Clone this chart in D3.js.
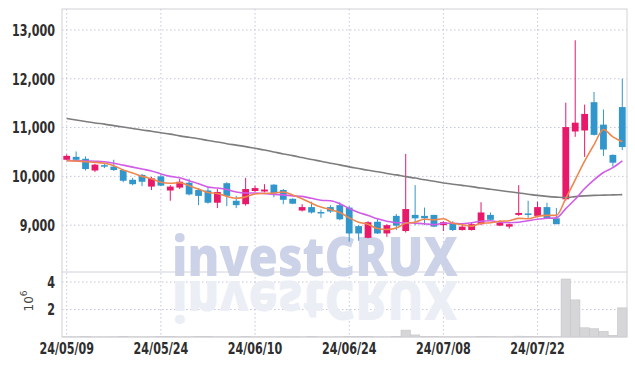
<!DOCTYPE html>
<html>
<head>
<meta charset="utf-8">
<script src="https://cdn.jsdelivr.net/npm/d3@7"></script>
<style>
  body { margin: 0; background: #fff; }
  .axis text { font-family: "DejaVu Sans Condensed", "DejaVu Sans", sans-serif; font-weight: bold; font-size: 16.5px; fill: #2e2e2e; }
  .axis path, .axis line { display: none; }
</style>
</head>
<body>
<div id="chart"></div>
<script>
// Trading days shown on the chart
const dates = ["2024-05-09","2024-05-10","2024-05-13","2024-05-14","2024-05-16","2024-05-17","2024-05-20","2024-05-21","2024-05-22","2024-05-23",
  "2024-05-24","2024-05-27","2024-05-28","2024-05-29","2024-05-30","2024-05-31","2024-06-03","2024-06-04","2024-06-05","2024-06-07",
  "2024-06-10","2024-06-11","2024-06-12","2024-06-13","2024-06-14","2024-06-17","2024-06-18","2024-06-19","2024-06-20","2024-06-21",
  "2024-06-24","2024-06-25","2024-06-26","2024-06-27","2024-06-28","2024-07-01","2024-07-02","2024-07-03","2024-07-04","2024-07-05",
  "2024-07-08","2024-07-09","2024-07-10","2024-07-11","2024-07-12","2024-07-15","2024-07-16","2024-07-17","2024-07-18","2024-07-19",
  "2024-07-22","2024-07-23","2024-07-24","2024-07-25","2024-07-26","2024-07-29","2024-07-30","2024-07-31","2024-08-01","2024-08-02"];

const open = [10340,10400,10360,10120,10230,10200,10130,9930,10030,9790,
  10000,9710,9770,9870,9720,9710,9460,9860,9500,9430,
  9700,9690,9830,9720,9540,9300,9370,9270,9370,9410,
  9360,8980,8740,9070,8830,9190,8880,9210,9190,9210,
  9000,9040,8900,8900,9020,9210,8990,8970,9210,9240,
  9190,9370,9140,9530,10920,10940,11520,11060,10440,11420];
const high = [10450,10510,10410,10260,10260,10340,10150,9970,10050,9990,
  10030,9820,9950,9950,9760,9760,9740,9880,9600,9970,
  9810,9840,9840,9740,9550,9430,9480,9320,9410,9470,
  9390,9000,9080,9130,9020,9230,10460,9820,9360,9210,
  9080,9080,9020,9060,9470,9260,9100,9030,9820,9500,
  9480,9460,9350,11510,12790,11470,11730,11370,10450,12000];
const low = [10330,10300,10120,10090,10170,10110,9880,9820,9800,9720,
  9800,9500,9740,9610,9410,9440,9350,9390,9350,9400,
  9680,9670,9570,9430,9430,9280,9240,9150,9250,9100,
  8660,8680,8730,8820,8760,8900,8850,9000,9000,8960,
  8880,8880,8890,8890,9000,9100,8980,8930,9190,9150,
  9180,9140,9020,9500,10810,10400,10840,10420,10200,10540];
const close = [10420,10340,10150,10240,10220,10130,9910,9840,9890,9960,
  9810,9790,9890,9630,9600,9460,9680,9600,9410,9740,
  9760,9730,9650,9520,9440,9370,9260,9260,9280,9120,
  8830,8830,9060,8830,9000,8990,9330,9140,9140,8970,
  9060,8900,8970,9020,9260,9110,9050,9020,9250,9230,
  9370,9140,9020,11010,11100,11280,10850,10550,10280,10600];

// Volume in shares
const volume = [20000,18000,22000,15000,16000,20000,25000,18000,16000,20000,
  22000,25000,18000,20000,24000,22000,20000,18000,16000,30000,
  18000,16000,14000,20000,18000,16000,22000,15000,14000,20000,
  30000,25000,22000,18000,16000,30000,500000,150000,30000,25000,
  20000,18000,16000,20000,50000,25000,20000,18000,60000,30000,
  35000,25000,20000,4220000,2700000,670000,600000,410000,120000,2120000];

// Moving averages
const ma5 = [10320,10315,10300,10290,10270,10220,10130,10070,10000,9950,
  9880,9860,9870,9810,9740,9670,9650,9590,9550,9580,
  9640,9650,9660,9680,9620,9540,9450,9370,9320,9260,
  9150,9060,9020,8930,8910,8940,9040,9060,9120,9110,
  9130,9040,9010,8980,9040,9050,9080,9090,9140,9130,
  9180,9200,9200,9550,9930,10310,10650,10960,10810,10710];
const ma10 = [10325,10320,10315,10310,10300,10270,10230,10190,10150,10110,
  10050,10000,9970,9910,9850,9780,9760,9730,9680,9660,
  9660,9650,9630,9620,9600,9590,9550,9510,9500,9440,
  9340,9260,9200,9130,9080,9050,9050,9040,9030,9010,
  9040,9040,9030,9050,9080,9090,9060,9050,9060,9090,
  9120,9140,9150,9340,9530,9750,9930,10080,10180,10320];
const ma60 = [11185,11155,11125,11095,11070,11040,11010,10980,10950,10925,
  10895,10865,10830,10800,10770,10735,10705,10670,10640,10610,
  10575,10540,10500,10460,10425,10385,10345,10310,10270,10235,
  10195,10160,10125,10095,10060,10030,9995,9965,9930,9900,
  9865,9840,9815,9790,9760,9735,9710,9685,9660,9635,
  9610,9590,9575,9565,9585,9600,9610,9615,9620,9625];

// Axis ticks
const xTickDates = ["2024-05-09","2024-05-24","2024-06-10","2024-06-24","2024-07-08","2024-07-22"];
const xTickLabels = ["24/05/09","24/05/24","24/06/10","24/06/24","24/07/08","24/07/22"];
const priceTicks = [9000, 10000, 11000, 12000, 13000];
const volumeTicks = [2000000, 4000000];

const width = 635;
const height = 366;
const margin = { top: 9, right: 8, left: 62 };
const priceBottom = 272;
const volBottom = 337;

const svg = d3.select("#chart")
  .append("svg")
  .attr("width", width)
  .attr("height", height)
  .style("display", "block");

// Scales
const xScale = d3.scaleBand()
  .domain(dates)
  .range([margin.left, width - margin.right])
  .padding(0);

const yScale = d3.scaleLinear()
  .domain([8040, 13430])
  .range([priceBottom, margin.top]);

const vScale = d3.scaleLinear()
  .domain([0, 4730000])
  .range([volBottom, priceBottom]);

const xc = d => xScale(d) + xScale.bandwidth() / 2;

// Grid lines
const grid = svg.append("g").attr("stroke", "#c2c6dc").attr("stroke-dasharray", "1.5,2.5");
grid.selectAll(".hgrid")
  .data(priceTicks)
  .enter().append("line")
  .attr("x1", margin.left).attr("x2", width - margin.right)
  .attr("y1", d => yScale(d)).attr("y2", d => yScale(d));
grid.selectAll(".vgrid")
  .data(volumeTicks)
  .enter().append("line")
  .attr("x1", margin.left).attr("x2", width - margin.right)
  .attr("y1", d => vScale(d)).attr("y2", d => vScale(d));
grid.selectAll(".xgrid")
  .data(xTickDates)
  .enter().append("line")
  .attr("x1", d => xc(d)).attr("x2", d => xc(d))
  .attr("y1", margin.top).attr("y2", volBottom);

// Watermark and its reflection
const wmX = 315, wmY = 276;
const watermark = (fill, transform) => svg.append("text")
  .attr("x", wmX).attr("y", wmY)
  .attr("transform", transform)
  .attr("text-anchor", "middle")
  .attr("textLength", 286).attr("lengthAdjust", "spacingAndGlyphs")
  .style("font-family", "'Open Sans', 'Liberation Sans', sans-serif")
  .style("font-weight", 800).style("font-size", "54px")
  .attr("fill", fill)
  .text("investCRUX");
watermark("#ccd2e8", null);
watermark("#eceef6", `translate(0,${wmY * 2 + 5}) scale(1,-1)`);

// Volume bars
svg.selectAll(".vol")
  .data(dates)
  .enter().append("rect")
  .attr("class", "vol")
  .attr("x", d => xScale(d))
  .attr("width", xScale.bandwidth())
  .attr("y", (d, i) => vScale(volume[i]))
  .attr("height", (d, i) => volBottom - vScale(volume[i]))
  .attr("fill", "#d6d6d8")
  .attr("stroke", "#c4c4c8")
  .attr("stroke-width", 0.6);

// Frame
svg.append("rect")
  .attr("x", margin.left).attr("y", margin.top)
  .attr("width", width - margin.right - margin.left)
  .attr("height", volBottom - margin.top)
  .attr("fill", "none").attr("stroke", "#d2d2d6");
svg.append("line")
  .attr("x1", margin.left).attr("x2", width - margin.right)
  .attr("y1", priceBottom).attr("y2", priceBottom)
  .attr("stroke", "#cfd2dc");

// Candles
const red = "#e8196a", blue = "#3196cb";
const bodyW = xScale.bandwidth() * 0.72;
const candles = svg.selectAll(".candle")
  .data(dates)
  .enter().append("g")
  .attr("class", "candle")
  .attr("fill", (d, i) => close[i] >= open[i] ? red : blue)
  .attr("stroke", (d, i) => close[i] >= open[i] ? red : blue);
candles.append("line")
  .attr("x1", d => xc(d)).attr("x2", d => xc(d))
  .attr("y1", (d, i) => yScale(high[i]))
  .attr("y2", (d, i) => yScale(low[i]))
  .attr("stroke-width", 1);
candles.append("rect")
  .attr("x", d => xc(d) - bodyW / 2)
  .attr("width", bodyW)
  .attr("y", (d, i) => yScale(Math.max(open[i], close[i])))
  .attr("height", (d, i) => Math.max(1.5, Math.abs(yScale(open[i]) - yScale(close[i]))))
  .attr("stroke", "none");

// Moving average lines
const maLine = arr => d3.line()
  .x(d => xc(d))
  .y((d, i) => yScale(arr[i]))
  .curve(d3.curveMonotoneX)(dates);
svg.append("path").attr("d", maLine(ma60)).attr("fill", "none").attr("stroke", "#7d7d7d").attr("stroke-width", 1.6);
svg.append("path").attr("d", maLine(ma10)).attr("fill", "none").attr("stroke", "#d15ce8").attr("stroke-width", 1.6);
svg.append("path").attr("d", maLine(ma5)).attr("fill", "none").attr("stroke", "#ef864c").attr("stroke-width", 1.6);

// Axes
svg.append("g")
  .attr("class", "axis")
  .attr("transform", `translate(${margin.left},0)`)
  .call(d3.axisLeft(yScale).tickValues(priceTicks).tickFormat(d3.format(",")).tickSize(0).tickPadding(7));

svg.append("g")
  .attr("class", "axis")
  .attr("transform", `translate(${margin.left},0)`)
  .call(d3.axisLeft(vScale).tickValues(volumeTicks).tickFormat(d => d / 1e6).tickSize(0).tickPadding(7));

svg.append("g")
  .attr("class", "axis")
  .attr("transform", `translate(0,${volBottom})`)
  .call(d3.axisBottom(xScale).tickValues(xTickDates)
    .tickFormat((d, i) => xTickLabels[i]).tickSize(0).tickPadding(5));

// Squeeze tick labels to a narrow look
svg.selectAll(".axis text").each(function () {
  const w = this.getComputedTextLength();
  d3.select(this).attr("textLength", w * 0.75).attr("lengthAdjust", "spacingAndGlyphs");
});

// Volume unit label
const unit = svg.append("text")
  .attr("transform", "translate(33,301) rotate(-90)")
  .attr("text-anchor", "middle")
  .style("font-family", "'DejaVu Sans', sans-serif")
  .style("font-size", "12px")
  .attr("fill", "#444");
unit.append("tspan").text("10");
unit.append("tspan").attr("dy", -6).style("font-size", "9px").text("6");
</script>
</body>
</html>
